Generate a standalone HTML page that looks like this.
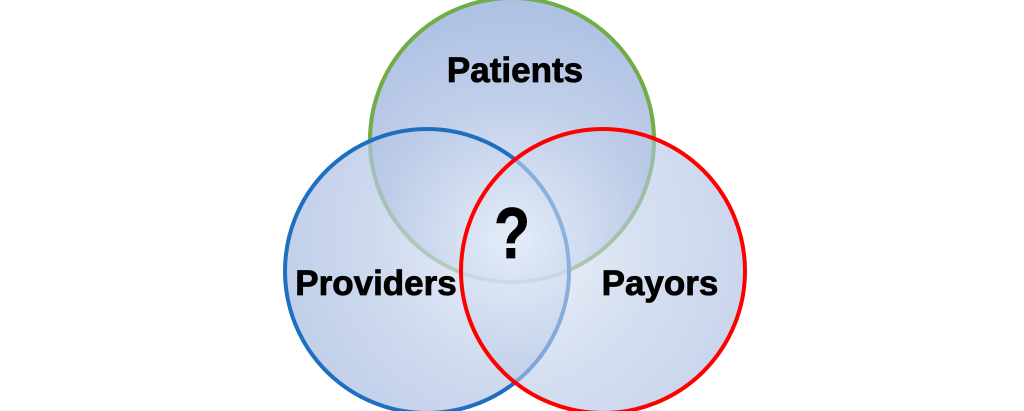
<!DOCTYPE html>
<html><head><style>html,body{margin:0;padding:0;background:#fff;width:1024px;height:411px;overflow:hidden}</style></head><body>
<svg width="1024" height="411" viewBox="0 0 1024 411" xmlns="http://www.w3.org/2000/svg">
<defs>
<radialGradient id="gb" cx="512" cy="240" r="250" gradientUnits="userSpaceOnUse">
<stop offset="0" stop-color="#e4ecf8"/><stop offset="0.55" stop-color="#bacae7"/><stop offset="1" stop-color="#a3b8e0"/>
</radialGradient>
</defs>
<circle cx="512" cy="140" r="142" fill="url(#gb)" fill-opacity="0.9" stroke="#70ad47" stroke-width="4"/>
<circle cx="427" cy="271" r="142" fill="url(#gb)" fill-opacity="0.7" stroke="#1f6fc0" stroke-width="4"/>
<circle cx="603" cy="271" r="142" fill="url(#gb)" fill-opacity="0.6" stroke="#ff0000" stroke-width="4"/>
<g font-family="Liberation Sans, sans-serif" font-weight="bold" fill="#000" stroke="#000" stroke-width="0.8">
<text x="515" y="82" font-size="35" text-anchor="middle">Patients</text>
<text x="376" y="295" font-size="35" text-anchor="middle">Providers</text>
<text x="660" y="295" font-size="35" text-anchor="middle">Payors</text>
<text transform="translate(512 258) scale(0.82 1)" x="0" y="0" font-size="72" text-anchor="middle">?</text>
</g>
</svg>
</body></html>
